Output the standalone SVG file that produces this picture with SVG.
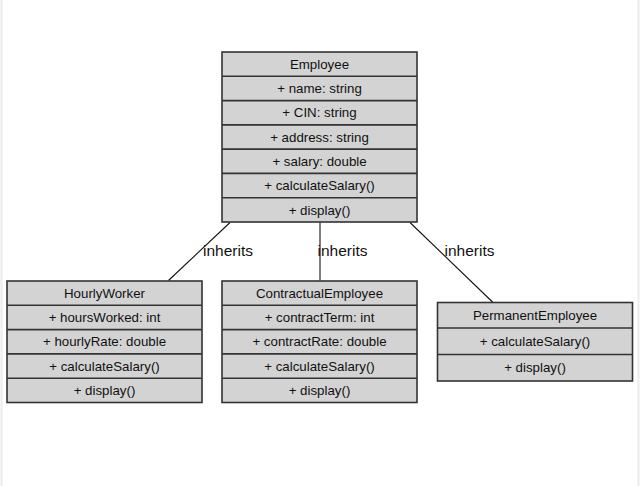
<svg xmlns="http://www.w3.org/2000/svg" width="640" height="486" viewBox="0 0 640 486">
<style>
.box{fill:#d3d3d3;stroke:#333;stroke-width:1.6}
.sep{stroke:#333;stroke-width:1.6}
.t{font-family:"Liberation Sans",Arial,sans-serif;font-size:13.3px;fill:#111;text-anchor:middle}
.lbl{font-family:"Liberation Sans",Arial,sans-serif;font-size:15.5px;fill:#111}
.edge{stroke:#111;stroke-width:1.1;fill:none}
</style>
<rect width="640" height="486" fill="#fff"/>
<line x1="1.5" y1="0" x2="1.5" y2="486" stroke="#ececec" stroke-width="2"/>
<line x1="638.5" y1="0" x2="638.5" y2="486" stroke="#ececec" stroke-width="2"/>
<g id="connectors">
<line class="edge" x1="230" y1="222.5" x2="168.5" y2="280.5"/>
<line class="edge" x1="320" y1="222.5" x2="320" y2="280.5"/>
<line class="edge" x1="410" y1="222.5" x2="493" y2="302.5"/>
<text class="lbl" x="203" y="256">inherits</text>
<text class="lbl" x="317.5" y="256">inherits</text>
<text class="lbl" x="444.5" y="256">inherits</text>
</g>
<g id="Employee">
<rect class="box" x="222" y="52" width="195" height="170"/>
<line class="sep" x1="222" y1="76.3" x2="417" y2="76.3"/>
<line class="sep" x1="222" y1="100.6" x2="417" y2="100.6"/>
<line class="sep" x1="222" y1="124.9" x2="417" y2="124.9"/>
<line class="sep" x1="222" y1="149.1" x2="417" y2="149.1"/>
<line class="sep" x1="222" y1="173.4" x2="417" y2="173.4"/>
<line class="sep" x1="222" y1="197.7" x2="417" y2="197.7"/>
<text class="t" x="319.5" y="68.8">Employee</text>
<text class="t" x="319.5" y="93.1">+ name: string</text>
<text class="t" x="319.5" y="117.4">+ CIN: string</text>
<text class="t" x="319.5" y="141.7">+ address: string</text>
<text class="t" x="319.5" y="166">+ salary: double</text>
<text class="t" x="319.5" y="190.3">+ calculateSalary()</text>
<text class="t" x="319.5" y="214.6">+ display()</text>
</g>
<g id="HourlyWorker">
<rect class="box" x="7" y="281" width="195" height="121.5"/>
<line class="sep" x1="7" y1="305.3" x2="202" y2="305.3"/>
<line class="sep" x1="7" y1="329.6" x2="202" y2="329.6"/>
<line class="sep" x1="7" y1="353.9" x2="202" y2="353.9"/>
<line class="sep" x1="7" y1="378.2" x2="202" y2="378.2"/>
<text class="t" x="104.5" y="297.8">HourlyWorker</text>
<text class="t" x="104.5" y="322.1">+ hoursWorked: int</text>
<text class="t" x="104.5" y="346.4">+ hourlyRate: double</text>
<text class="t" x="104.5" y="370.7">+ calculateSalary()</text>
<text class="t" x="104.5" y="395">+ display()</text>
</g>
<g id="ContractualEmployee">
<rect class="box" x="222" y="281" width="195" height="121.5"/>
<line class="sep" x1="222" y1="305.3" x2="417" y2="305.3"/>
<line class="sep" x1="222" y1="329.6" x2="417" y2="329.6"/>
<line class="sep" x1="222" y1="353.9" x2="417" y2="353.9"/>
<line class="sep" x1="222" y1="378.2" x2="417" y2="378.2"/>
<text class="t" x="319.5" y="297.8">ContractualEmployee</text>
<text class="t" x="319.5" y="322.1">+ contractTerm: int</text>
<text class="t" x="319.5" y="346.4">+ contractRate: double</text>
<text class="t" x="319.5" y="370.7">+ calculateSalary()</text>
<text class="t" x="319.5" y="395">+ display()</text>
</g>
<g id="PermanentEmployee">
<rect class="box" x="437.5" y="302.5" width="195" height="78.5"/>
<line class="sep" x1="437.5" y1="328" x2="632.5" y2="328"/>
<line class="sep" x1="437.5" y1="354.5" x2="632.5" y2="354.5"/>
<text class="t" x="535" y="320">PermanentEmployee</text>
<text class="t" x="535" y="345.8">+ calculateSalary()</text>
<text class="t" x="535" y="372.3">+ display()</text>
</g>
</svg>
